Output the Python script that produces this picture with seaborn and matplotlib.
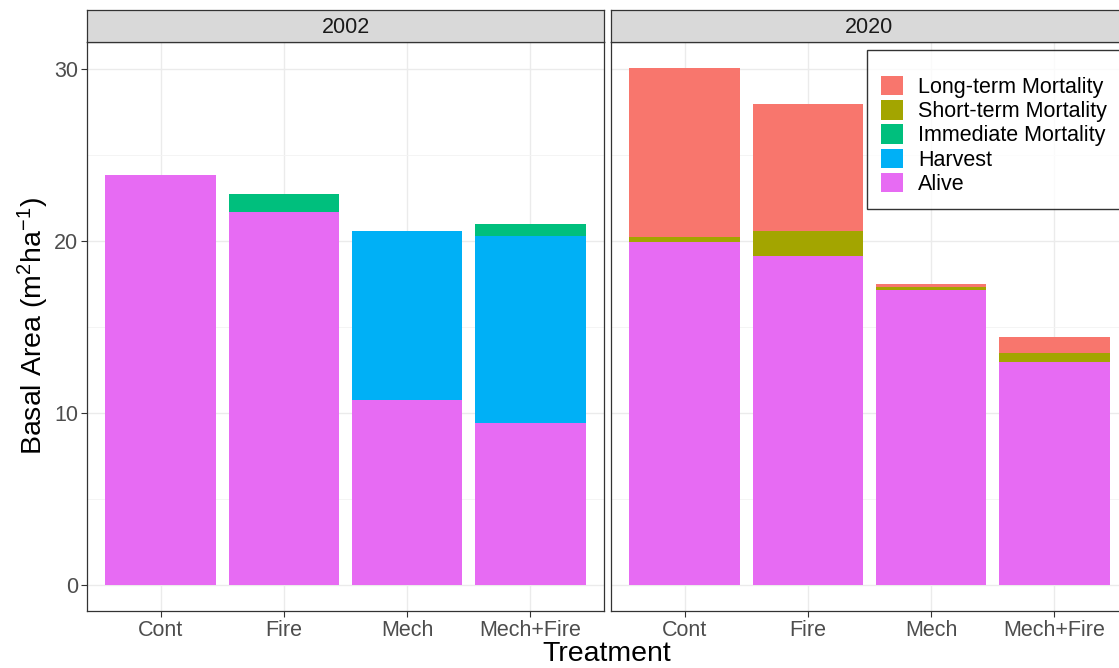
import matplotlib
matplotlib.use("Agg")
import matplotlib.pyplot as plt
from matplotlib.patches import Patch
from matplotlib.ticker import MultipleLocator
import numpy as np
import pandas as pd
import seaborn as sns

# Basal area components per treatment (m^2 ha^-1)
treatments = ["Cont", "Fire", "Mech", "Mech+Fire"]
years = ["2002", "2020"]
components = ["Long-term Mortality", "Short-term Mortality",
              "Immediate Mortality", "Harvest", "Alive"]

alive_2002 = [23.85, 21.68, 10.79, 9.45]
harvest_2002 = [0.0, 0.0, 9.78, 10.85]
immediate_2002 = [0.0, 1.09, 0.0, 0.70]

alive_2020 = [19.94, 19.17, 17.16, 12.96]
short_2020 = [0.29, 1.44, 0.20, 0.55]
long_2020 = [9.86, 7.38, 0.14, 0.93]

palette = {
    "Long-term Mortality": "#F8766D",
    "Short-term Mortality": "#A3A500",
    "Immediate Mortality": "#00BF7D",
    "Harvest": "#00B0F6",
    "Alive": "#E76BF3",
}

zeros = [0.0] * 4
records = []
for year, parts in [
    ("2002", {"Alive": alive_2002, "Harvest": harvest_2002,
              "Immediate Mortality": immediate_2002,
              "Short-term Mortality": zeros, "Long-term Mortality": zeros}),
    ("2020", {"Alive": alive_2020, "Harvest": zeros,
              "Immediate Mortality": zeros,
              "Short-term Mortality": short_2020,
              "Long-term Mortality": long_2020}),
]:
    for comp in components:
        for t, v in zip(treatments, parts[comp]):
            records.append({"Year": year, "Treatment": t,
                            "Component": comp, "Value": v})
df = pd.DataFrame(records)

# cumulative tops, stacking from the bottom (Alive) upwards
stack_order = components[::-1]
df["Component"] = pd.Categorical(df["Component"], categories=stack_order, ordered=True)
df = df.sort_values(["Year", "Treatment", "Component"])
df["Top"] = df.groupby(["Year", "Treatment"])["Value"].cumsum()

sns.set_theme(style="white")
plt.rcParams["font.family"] = ["Liberation Sans", "DejaVu Sans"]
plt.rcParams["mathtext.default"] = "regular"

W, H = 1119, 668
fig = plt.figure(figsize=(W / 100, H / 100), dpi=100)
fig.patch.set_facecolor("white")

dark = "#333333"
tick_size = 15.5
title_size = 20.5
panel_left = [87, 611]
panel_w = 517
panel_top, panel_bot = 42, 611
strip_top = 10

axes = []
for i, year in enumerate(years):
    x0 = panel_left[i]
    ax = fig.add_axes([x0 / W, (H - panel_bot) / H, panel_w / W,
                       (panel_bot - panel_top) / H])
    sub = df[df["Year"] == year]
    # draw from the highest cumulative layer down so lower layers overlay
    for comp in components:
        layer = sub[sub["Component"] == comp]
        sns.barplot(data=layer, x="Treatment", y="Top", order=treatments,
                    color=palette[comp], saturation=1, width=0.9,
                    errorbar=None, linewidth=0, ax=ax)
    ax.set_xlim(-0.6, 3.6)
    ax.set_ylim(-1.5045, 31.59)
    ax.yaxis.set_major_locator(MultipleLocator(10))
    ax.yaxis.set_minor_locator(MultipleLocator(5))
    ax.set_axisbelow(True)
    ax.grid(True, which="major", color="#EBEBEB", linewidth=1.0)
    ax.grid(True, which="minor", axis="y", color="#F3F3F3", linewidth=0.6)
    for s in ax.spines.values():
        s.set_color(dark)
        s.set_linewidth(0.9)
        s.set_visible(True)
    ax.tick_params(axis="both", which="major", length=4, width=0.8,
                   color=dark, labelcolor="#4D4D4D", labelsize=tick_size,
                   pad=2.5, bottom=True, left=(i == 0))
    ax.tick_params(axis="y", which="minor", length=0)
    ax.set_xlabel("")
    ax.set_ylabel("")
    if i == 1:
        ax.set_yticklabels([])
    axes.append(ax)

    # facet strip
    sax = fig.add_axes([x0 / W, (H - panel_top) / H, panel_w / W,
                        (panel_top - strip_top) / H])
    sax.set_facecolor("#D9D9D9")
    sax.set_xticks([])
    sax.set_yticks([])
    for s in sax.spines.values():
        s.set_color(dark)
        s.set_linewidth(0.9)
    sax.text(0.5, 0.45, year, transform=sax.transAxes, ha="center",
             va="center", fontsize=tick_size, color="#1A1A1A")

axes[0].set_ylabel("Basal Area (m$^{2}$ha$^{-1}$)", fontsize=title_size,
                   color="black", labelpad=2)
fig.text(607 / W, 1 - 661 / H, "Treatment", ha="center", va="baseline",
         fontsize=title_size, color="black")

handles = [Patch(facecolor=palette[c], edgecolor="none") for c in components]
leg = fig.legend(handles, components, loc="upper left",
                 bbox_to_anchor=(867 / W, 1 - 50 / H), frameon=True,
                 fontsize=tick_size, title=" ", title_fontsize=7,
                 handlelength=1.02, handleheight=1.0, handletextpad=0.7,
                 labelspacing=0.1, borderpad=0.65, borderaxespad=0,
                 fancybox=False)
leg.get_frame().set_edgecolor("black")
leg.get_frame().set_linewidth(1.0)
for t in leg.get_texts():
    t.set_color("black")

fig.savefig("out.png", dpi=100)
